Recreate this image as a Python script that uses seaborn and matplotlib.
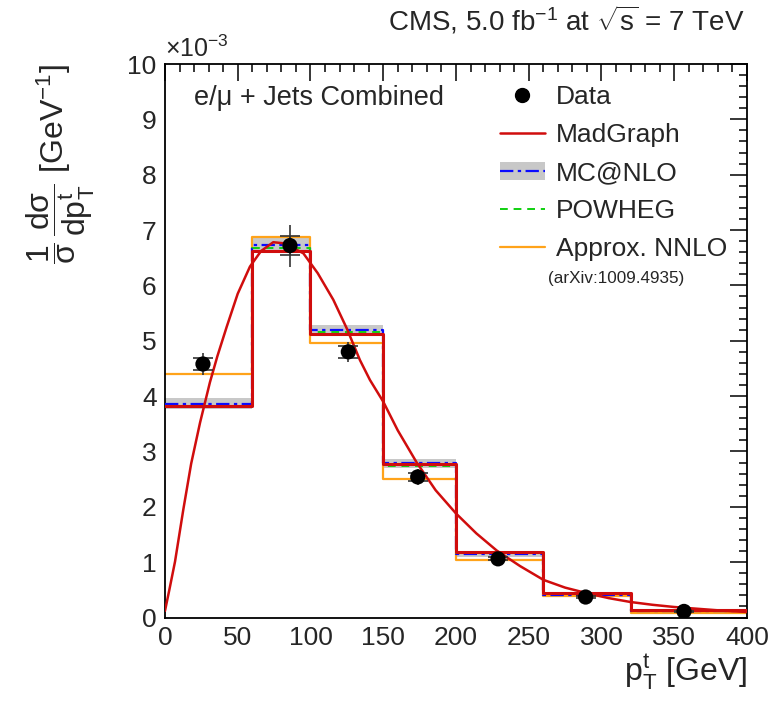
import numpy as np
import seaborn as sns
import matplotlib.pyplot as plt
from matplotlib.lines import Line2D
from matplotlib.patches import Patch
from matplotlib.ticker import MultipleLocator

# bin edges of the top-quark pT spectrum (GeV)
edges = [0, 60, 100, 150, 200, 260, 320, 400]

# normalised cross sections, in units of 1e-3 GeV^-1
madgraph = [3.82, 6.63, 5.13, 2.77, 1.19, 0.44, 0.14]
mcatnlo = [3.86, 6.73, 5.20, 2.79, 1.15, 0.41, 0.12]
mcatnlo_lo = [3.76, 6.61, 5.11, 2.71, 1.10, 0.38, 0.10]
mcatnlo_hi = [3.96, 6.85, 5.29, 2.87, 1.20, 0.44, 0.14]
powheg = [3.83, 6.68, 5.16, 2.74, 1.17, 0.42, 0.13]
nnlo = [4.40, 6.87, 4.96, 2.50, 1.03, 0.39, 0.09]

# measured points
data_x = [26.1, 85.9, 126.0, 173.7, 228.9, 289.1, 356.7]
data_y = [4.58, 6.72, 4.80, 2.54, 1.06, 0.37, 0.11]
data_stat = [0.11, 0.17, 0.11, 0.07, 0.03, 0.02, 0.01]
data_tot = [0.20, 0.38, 0.18, 0.14, 0.05, 0.04, 0.02]

# smooth MadGraph curve
curve_x = [0, 3, 6.9, 12.6, 18, 24.1, 30.9, 36, 42.4, 50, 58.4, 66, 74.4, 82,
           95.1, 105, 115.7, 125, 134, 140.9, 150, 160, 173, 186, 200, 214,
           228, 244, 260.1, 275, 289.9, 305, 320, 335, 350, 370, 385, 400]
curve_y = [0.12, 0.5, 1.01, 1.95, 2.78, 3.52, 4.25, 4.72, 5.25, 5.85, 6.34,
           6.62, 6.78, 6.76, 6.58, 6.22, 5.74, 5.22, 4.65, 4.29, 3.90, 3.38,
           2.80, 2.30, 1.88, 1.52, 1.21, 0.93, 0.68, 0.54, 0.44, 0.35, 0.28,
           0.23, 0.19, 0.15, 0.12, 0.10]

sns.set_style('white')
plt.rcParams['font.family'] = ['Liberation Sans', 'DejaVu Sans']
plt.rcParams['mathtext.fontset'] = 'custom'
plt.rcParams['mathtext.rm'] = 'Liberation Sans'
plt.rcParams['mathtext.it'] = 'Liberation Sans'
plt.rcParams['mathtext.bf'] = 'Liberation Sans:bold'

red = '#d00d0d'
orange = '#ffa31a'
blue = '#0a0aff'
green = '#10d010'
grey = '#c8c8c8'

fig = plt.figure(figsize=(7.72, 7.01), dpi=100)
ax = fig.add_axes([0.2137, 0.1191, 0.7539, 0.7896])

centers = [(a + b) / 2 for a, b in zip(edges[:-1], edges[1:])]

ax.fill_between(edges, mcatnlo_lo + [mcatnlo_lo[-1]], mcatnlo_hi + [mcatnlo_hi[-1]],
                step='post', color=grey, linewidth=0, zorder=1)
sns.histplot(x=centers, weights=nnlo, bins=edges, element='step', fill=False,
             color=orange, linewidth=1.6, ax=ax, zorder=2)
sns.histplot(x=centers, weights=mcatnlo, bins=edges, element='step', fill=False,
             color=blue, linewidth=1.6, linestyle=(0, (6, 2, 1.5, 2)), ax=ax, zorder=3)
sns.histplot(x=centers, weights=powheg, bins=edges, element='step', fill=False,
             color=green, linewidth=1.4, linestyle=(0, (4, 3)), ax=ax, zorder=3)
sns.histplot(x=centers, weights=madgraph, bins=edges, element='step', fill=False,
             color=red, linewidth=2.2, ax=ax, zorder=4)
sns.lineplot(x=curve_x, y=curve_y, sort=False, color=red, linewidth=1.8, ax=ax, zorder=5)

ax.errorbar(data_x, data_y, yerr=data_tot, fmt='none', ecolor='#333333',
            elinewidth=1.2, capsize=0, zorder=6)
ax.errorbar(data_x, data_y, yerr=data_stat, fmt='none', ecolor='#333333',
            elinewidth=1.2, capsize=7, capthick=1.2, zorder=6)
sns.scatterplot(x=data_x, y=data_y, color='black', s=120, edgecolor='none',
                ax=ax, zorder=7)

ax.set_xlim(0, 400)
ax.set_ylim(0, 10)
ax.xaxis.set_major_locator(MultipleLocator(50))
ax.xaxis.set_minor_locator(MultipleLocator(10))
ax.yaxis.set_major_locator(MultipleLocator(1))
ax.yaxis.set_minor_locator(MultipleLocator(0.2))
ax.tick_params(which='both', direction='in', top=True, right=True,
               labelsize=19, width=1.1, color='black', pad=6)
ax.tick_params(which='major', length=12)
ax.tick_params(which='minor', length=6)
for s in ax.spines.values():
    s.set_linewidth(1.3)
    s.set_color('black')

ax.set_xlabel(r'p$_{\mathrm{T}}^{\mathrm{t}}$ [GeV]', fontsize=23, loc='right', labelpad=2)
ax.set_ylabel(r'$\dfrac{1}{\sigma}\,\dfrac{\mathrm{d}\sigma}{\mathrm{dp}^{\mathrm{t}}_{\mathrm{T}}}$ [GeV$^{-1}$]',
              fontsize=23, loc='top', labelpad=22)

ax.text(0.0, 1.003, r'$\times$10$^{-3}$', transform=ax.transAxes, fontsize=18,
        ha='left', va='bottom')
fig.text(0.965, 0.971, r'CMS, 5.0 fb$^{-1}$ at $\sqrt{\mathrm{s}}$ = 7 TeV',
         fontsize=20, ha='right', va='center')
ax.text(0.05, 0.9386, 'e/\u03bc + Jets Combined', transform=ax.transAxes,
        fontsize=19.5, ha='left', va='center')

handles = [
    Line2D([], [], marker='o', color='black', linestyle='none', markersize=10),
    Line2D([], [], color=red, linewidth=1.8),
    (Patch(facecolor=grey, edgecolor='none'),
     Line2D([], [], color=blue, linewidth=1.6, linestyle=(0, (6, 2, 1.5, 2)))),
    Line2D([], [], color=green, linewidth=1.4, linestyle=(0, (4, 3))),
    Line2D([], [], color=orange, linewidth=1.6),
]
labels = ['Data', 'MadGraph', 'MC@NLO', 'POWHEG', 'Approx. NNLO']
ax.legend(handles, labels, loc='upper left', bbox_to_anchor=(0.5756, 0.962),
          frameon=False, fontsize=19, handlelength=1.7, handletextpad=0.42,
          labelspacing=0.53, borderpad=0, borderaxespad=0)
ax.text(0.658, 0.613, '(arXiv:1009.4935)', transform=ax.transAxes,
        fontsize=12.3, ha='left', va='center')

fig.savefig('out.png', dpi=100)
